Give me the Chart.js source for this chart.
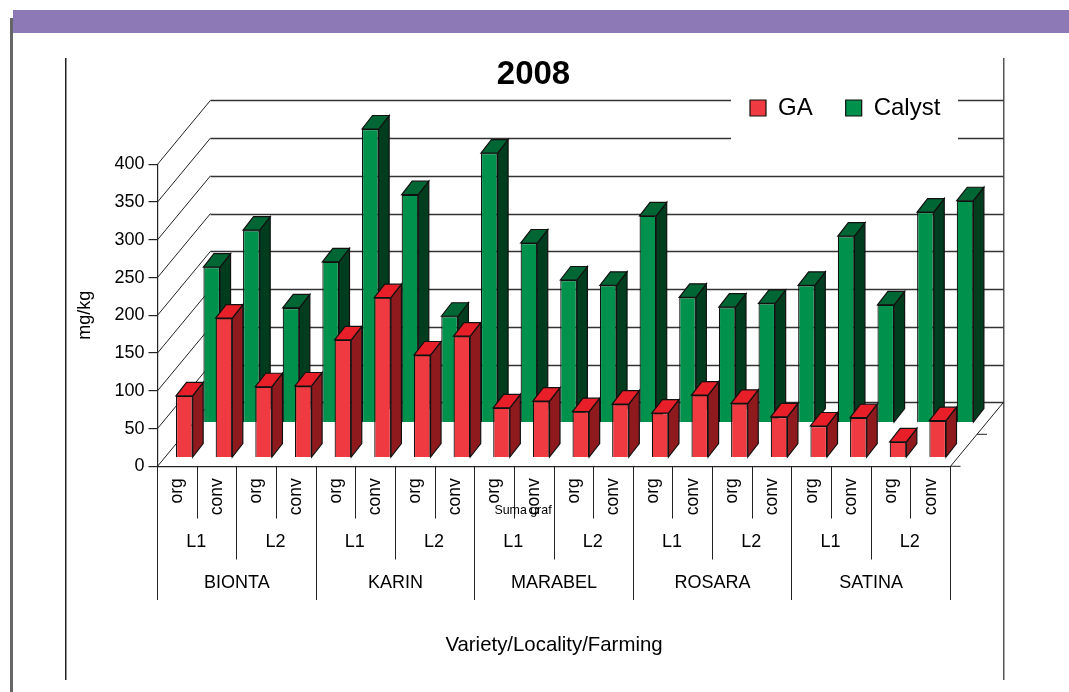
<!DOCTYPE html>
<html><head><meta charset="utf-8">
<script src="https://cdn.jsdelivr.net/npm/chart.js@4/dist/chart.umd.min.js"></script>
<style>html,body{margin:0;padding:0;background:#fff}canvas{display:block}</style>
</head><body><canvas id="c" width="1069" height="692"></canvas>
<script>
const farming = ['org','conv','org','conv','org','conv','org','conv','org','conv','org','conv','org','conv','org','conv','org','conv','org','conv'];
const localities = ['L1','L2','L1','L2','L1','L2','L1','L2','L1','L2'];
const varieties = ['BIONTA','KARIN','MARABEL','ROSARA','SATINA'];
const gaValues = [82,185,94,95,156,212,136,161,66,75,61,71,59,83,72,54,42,53,21,49];
const calystValues = [206,255,152,213,389,302,141,357,238,189,182,274,166,153,158,182,247,156,279,294];
const FONT = '"Liberation Sans", Arial, sans-serif';
const depth = {dx:53, dy:-64};
const barDepth = {dx:10.5, dy:-13.5};
const seriesShift = [{dx:7, dy:-8.6},{dx:34.4, dy:-43.6}];
const faces = [{top:'#E81E28', side:'#8E1A1E'},{top:'#006633', side:'#003D1F'}];

const scene = {
  id:'scene',
  beforeDraw(chart){
    const {ctx, scales:{x,y}} = chart;
    const L = x.left, R = x.right;
    ctx.save();
    ctx.fillStyle='#fff'; ctx.fillRect(0,0,1069,692);
    ctx.fillStyle='#8C79B6'; ctx.fillRect(13,10,1056,23);
    ctx.fillStyle='#666'; ctx.fillRect(10,18,3,674);
    ctx.fillStyle='#222'; ctx.fillRect(65,58,1.5,622);
    ctx.fillStyle='#555'; ctx.fillRect(1003,58,1.5,622);
    ctx.lineWidth=1; ctx.strokeStyle='#222';
    y.ticks.forEach(t=>{
      const p = y.getPixelForValue(t.value);
      ctx.beginPath(); ctx.moveTo(L,p); ctx.lineTo(L+depth.dx,p+depth.dy); ctx.stroke();
    });
    ctx.lineWidth=1.4; ctx.strokeStyle='#333';
    y.ticks.forEach(t=>{
      const p = Math.round(y.getPixelForValue(t.value)+depth.dy)+0.5;
      ctx.beginPath(); ctx.moveTo(L+depth.dx,p); ctx.lineTo(R+depth.dx,p); ctx.stroke();
    });
    const y0 = y.getPixelForValue(0);
    ctx.lineWidth=1; ctx.strokeStyle='#222';
    ctx.beginPath(); ctx.moveTo(R,y0); ctx.lineTo(R+depth.dx,y0+depth.dy); ctx.stroke();
    ctx.beginPath(); ctx.moveTo(R,y0); ctx.lineTo(R+10,y0); ctx.stroke();
    ctx.beginPath(); ctx.moveTo(R+depth.dx/2,y0+depth.dy/2); ctx.lineTo(R+depth.dx/2+10,y0+depth.dy/2); ctx.stroke();
    ctx.fillStyle='#fff'; ctx.fillRect(731,88,227,57);
    ctx.restore();
  },
  afterLayout(chart){
    const lg = chart.legend;
    lg.left = 717; lg.top = 63; lg.right = 1069; lg.bottom = lg.top + lg.height;
    const tb = chart.titleBlock;
    tb.left = 0; tb.right = 1067;
  },
  beforeDatasetDraw(chart,args){
    const s = seriesShift[args.index];
    chart.ctx.save();
    chart.ctx.translate(s.dx,s.dy);
  },
  afterDatasetDraw(chart,args){
    const {ctx} = chart, f = faces[args.index], d = barDepth;
    ctx.lineWidth=1.2; ctx.strokeStyle='#111'; ctx.lineJoin='miter';
    args.meta.data.forEach(el=>{
      const {x,y,base,width} = el.getProps(['x','y','base','width'],true);
      const l=x-width/2, r=x+width/2;
      ctx.fillStyle=f.side;
      ctx.beginPath(); ctx.moveTo(r,y); ctx.lineTo(r+d.dx,y+d.dy); ctx.lineTo(r+d.dx,base+d.dy); ctx.lineTo(r,base); ctx.closePath(); ctx.fill(); ctx.stroke();
      ctx.fillStyle=f.top;
      ctx.beginPath(); ctx.moveTo(l,y); ctx.lineTo(l+d.dx,y+d.dy); ctx.lineTo(r+d.dx,y+d.dy); ctx.lineTo(r,y); ctx.closePath(); ctx.fill(); ctx.stroke();
    });
    ctx.restore();
  },
  afterDraw(chart){
    const {ctx, scales:{x,y}} = chart;
    const y0 = y.getPixelForValue(0);
    const step = (x.right-x.left)/farming.length;
    const edge = i => x.getPixelForValue(0)-step/2+i*step;
    ctx.save();
    ctx.strokeStyle='#222'; ctx.lineWidth=1;
    const line=(px,bottom)=>{const p=Math.floor(px)+0.5;ctx.beginPath();ctx.moveTo(p,y0);ctx.lineTo(p,bottom);ctx.stroke();};
    farming.forEach((_,i)=>{ if(i%2===1) line(edge(i),518.5); });
    localities.forEach((_,i)=>{ if(i%2===1) line(edge(i*2),559.5); });
    for(let i=0;i<=varieties.length;i++) line(edge(i*4),600);
    ctx.fillStyle='#000'; ctx.textAlign='center'; ctx.textBaseline='middle';
    ctx.font='18px '+FONT;
    localities.forEach((t,i)=>ctx.fillText(t,edge(i*2+1)-1,542.5));
    varieties.forEach((t,i)=>ctx.fillText(t,edge(i*4+2),583.5));
    ctx.font='12.4px '+FONT;
    ctx.fillText('Suma graf',523,511);
    ctx.restore();
  }
};

new Chart(document.getElementById('c'),{
  type:'bar',
  data:{labels:farming,datasets:[
    {label:'GA',data:gaValues,backgroundColor:'#EE3A40',borderColor:'#111',borderWidth:1.2,clip:false},
    {label:'Calyst',data:calystValues,backgroundColor:'#00914C',borderColor:'#111',borderWidth:1.2,clip:false}
  ]},
  plugins:[scene],
  options:{
    responsive:false, animation:false, devicePixelRatio:1,
    layout:{padding:{left:0,top:0,right:118.5,bottom:0}},
    datasets:{bar:{grouped:false,barPercentage:0.42,categoryPercentage:1,base:0}},
    plugins:{
      tooltip:{enabled:false},
      title:{display:true,text:'2008',color:'#000',font:{family:FONT,size:33,weight:'bold'},padding:{top:55,bottom:2.7}},
      legend:{display:true,position:'top',align:'start',
        labels:{color:'#000',font:{family:FONT,size:24},boxWidth:16,boxHeight:16,padding:33}}
    },
    scales:{
      x:{
        type:'category',
        grid:{drawOnChartArea:false,drawTicks:false},
        border:{display:true,color:'#222',width:1.2},
        ticks:{color:'#000',font:{family:FONT,size:17.5},minRotation:90,maxRotation:90,autoSkip:false,padding:12},
        title:{display:true,text:'Variety/Locality/Farming',color:'#000',font:{family:FONT,size:20.4},padding:{top:0,bottom:34}},
        afterFit(s){s.height=692-466.3;}
      },
      y:{
        min:0,max:400,
        grid:{drawOnChartArea:false,tickLength:9,color:'#222',lineWidth:1.2},
        border:{display:true,color:'#222',width:1.2},
        ticks:{stepSize:50,color:'#000',font:{family:FONT,size:18},padding:4},
        title:{display:true,text:'mg/kg',color:'#000',font:{family:FONT,size:18},padding:{top:74,bottom:0}},
        afterFit(s){s.width=157.5;}
      }
    }
  }
});
</script></body></html>
